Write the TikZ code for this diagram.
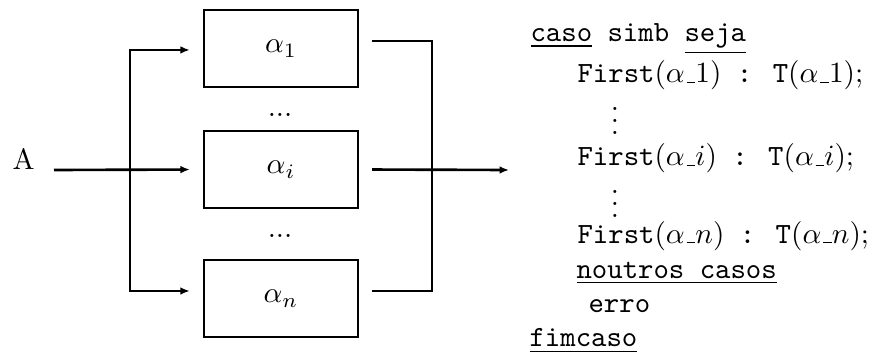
\documentclass[tikz,border=0pt]{standalone}
\usetikzlibrary{arrows.meta}
% short low underscore, as in the classic \_ definition
\newcommand{\uscore}{\mbox{\kern.06em\vbox{\hrule width.3em}}}
\begin{document}
\begin{tikzpicture}[x=0.341pt, y=-0.341pt,
  wire/.style={line width=0.9pt},
  arr/.style={-{Latex[length=3.2pt,width=2.6pt]}},
  blk/.style={draw, line width=0.9pt, minimum width=52.5pt, minimum height=26.3pt, inner sep=0pt},
  code/.style={anchor=base west, inner sep=0pt}]
\useasboundingbox (0,0) rectangle (885,360);

% the three alternatives
\node[blk] (b1) at (281,48.5) {$\alpha_1$};
\node[blk] (bi) at (281,169.5) {$\alpha_i$};
\node[blk] (bn) at (281,298.5) {$\alpha_n$};
\node[anchor=base, inner sep=0pt] (d1) at (280,116.5) {...};
\node[anchor=base, inner sep=0pt] (d2) at (280,238) {...};

% input
\node[anchor=base, inner sep=0pt] (A) at (23.5,169.5) {A};
\coordinate (in) at (54,170);
\coordinate (split) at (130,170);
\coordinate (join) at (432,170);
\coordinate (out) at (509,170);

\draw[wire, arr, shorten >=4.4pt] (in) -- (bi.west);
\draw[wire, arr, shorten >=4.4pt] (split) |- ([yshift=-0.5pt]b1.west);
\draw[wire, arr, shorten >=4.4pt] (split) |- ([yshift=2.56pt]bn.west);

% output
\draw[wire, shorten <=4.4pt, shorten >=4.4pt] ([yshift=2.56pt]b1.east) -| (join) |- ([yshift=2.56pt]bn.east);
\draw[wire, arr, shorten <=4.4pt] (bi.east) -- (out);

% equivalent case statement
\node[code] (c1) at (530,41.7) {\texttt{\underline{caso} simb \underline{seja}}};
\node[code] (c2) at (577,83) {\texttt{First}$(\alpha\uscore 1)$\texttt{ : T}$(\alpha\uscore 1)$;};
\node[inner sep=0pt] (v1) at (615,112) {$\vdots$};
\node[code] (c3) at (577,165.7) {\texttt{First}$(\alpha\uscore i)$\texttt{ : T}$(\alpha\uscore i)$;};
\node[inner sep=0pt] (v2) at (615,195) {$\vdots$};
\node[code] (c4) at (577,243.5) {\texttt{First}$(\alpha\uscore n)$\texttt{ : T}$(\alpha\uscore n)$;};
\node[code] (c5) at (576,278.3) {\underline{\texttt{noutros casos}}};
\node[code] (c6) at (588,313) {\texttt{erro}};
\node[code] (c7) at (529,347) {\underline{\texttt{fimcaso}}};
\end{tikzpicture}
\end{document}
